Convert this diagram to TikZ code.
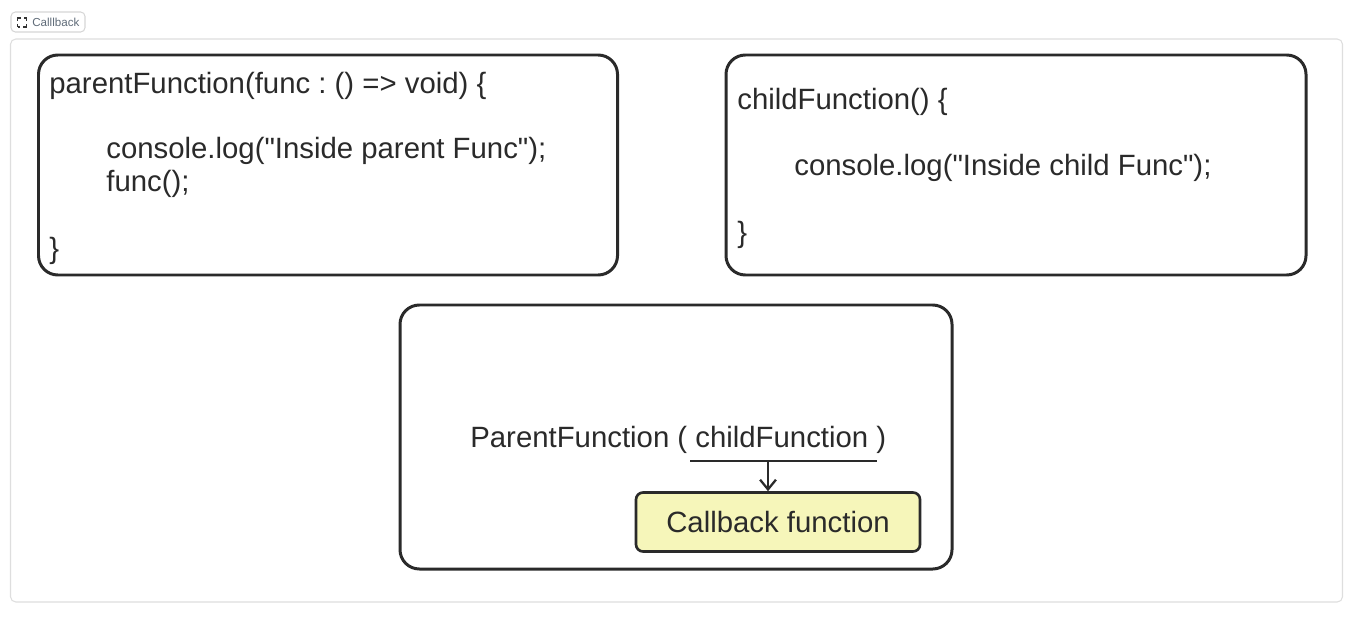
\documentclass[tikz,border=0pt]{standalone}
\usepackage{fontspec}
\setmainfont{Liberation Sans}
\newfontfamily\codefont{Liberation Sans}
\usetikzlibrary{arrows.meta, positioning, calc}
\definecolor{notefill}{HTML}{F6F6BA}
\definecolor{inkline}{HTML}{2A2A2A}
\definecolor{tabink}{HTML}{5F6B78}

\begin{document}
\frenchspacing
\begin{tikzpicture}[
        x=0.02cm, y=-0.02cm,
        panel/.style={draw=black!13, line width=0.6pt, rounded corners=3pt, fill=white, minimum width=1332*0.02cm, minimum height=563*0.02cm},
        tabbox/.style={draw=black!16, line width=0.6pt, rounded corners=2.5pt, minimum width=74*0.02cm, minimum height=20*0.02cm},
        codebox/.style={draw=inkline, line width=1.7pt, rounded corners=11pt, minimum height=220*0.02cm},
        callbox/.style={draw=inkline, line width=1.5pt, rounded corners=4pt, fill=notefill, minimum width=284*0.02cm, minimum height=59*0.02cm, font=\fontsize{16.7}{16.7}\selectfont, text=inkline},
        codeline/.style={anchor=base west, inner sep=0pt, font=\codefont\fontsize{16.7}{16.7}\selectfont, text=inkline},
        flowarrow/.style={-{Straight Barb[length=5.5pt, width=9pt]}, draw=inkline, line width=1.3pt}
    ]
        \useasboundingbox (0,0) rectangle (1354,618);

        % Outer frame and tab
        \node[panel] (frame) at (676.5,320.5) {};
        \node[tabbox] (tab) at (48,22) {};
        \node[draw=black!80, dash pattern=on 3.4pt off 1.7pt, dash phase=1.7pt, line width=0.7pt, minimum width=9*0.02cm, minimum height=9*0.02cm, inner sep=0pt, outer sep=0pt] (tabicon) at (22,22.5) {};
        \node[anchor=west, inner sep=0pt, font=\fontsize{6.6}{6.6}\selectfont, text=tabink] (tabtext) at (32,22.5) {Calllback};

        % Parent function
        \node[codebox, minimum width=579*0.02cm] (parentbox) at (328,165) {};
        \node[codeline] (parentsig) at (49,94) {parentFunction(func : () => void) \{};
        \node[codeline] (parentlog) at (106,159) {console.log("Inside parent Func");};
        \node[codeline] (parentcall) at (106,192) {func();};
        \node[codeline] (parentend) at (49,258) {\}};

        % Child function
        \node[codebox, minimum width=580*0.02cm] (childbox) at (1016,165) {};
        \node[codeline] (childsig) at (737,110) {childFunction() \{};
        \node[codeline] (childlog) at (794,175) {console.log("Inside child Func");};
        \node[codeline] (childend) at (737,242) {\}};

        % Call site
        \node[codebox, minimum width=552*0.02cm, minimum height=264*0.02cm] (callbox) at (676,437) {};
        \node[codeline] (callsite) at (470,447) {ParentFunction ( childFunction )};
        \node[callbox] (cbnote) at (778,522) {Callback function};

        \coordinate (ulstart) at (690,461);
        \coordinate (ulend) at (877,461);
        \coordinate (ulmid) at (768,461);
        \draw[draw=inkline, line width=1.2pt] (ulstart) -- (ulend);
        \draw[flowarrow] (ulmid) -- (ulmid |- cbnote.north);
    \end{tikzpicture}
\end{document}
